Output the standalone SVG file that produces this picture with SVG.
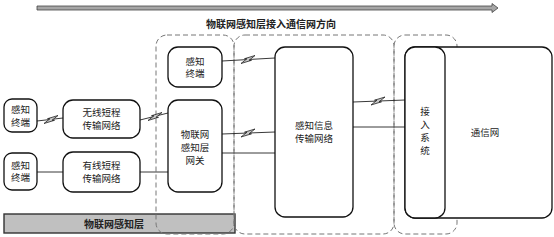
<svg xmlns="http://www.w3.org/2000/svg" xmlns:xlink="http://www.w3.org/1999/xlink" width="554" height="237" viewBox="0 0 554 237">
<style>
  .node{fill:#fff;stroke:#111;stroke-width:1.3}
  .dash{fill:none;stroke:#777;stroke-width:1;stroke-dasharray:5,3}
  .t{font-family:"Noto Sans CJK SC","Noto Sans",sans-serif;font-size:9.5px;fill:#222;text-anchor:middle}
  .b{font-weight:bold;font-size:10px}
  .ln{stroke:#222;stroke-width:0.9;fill:none}
  .bolt{fill:#c8c8c8;stroke:#222;stroke-width:0.8;stroke-linejoin:miter}
</style>
<defs>
  <path id="bolt" d="M-7,4 L-1,-0.8 L-3.5,-0.8 L7,-4 L1,0.8 L3.5,0.8 Z"/>
</defs>
<rect width="554" height="237" fill="#fff"/>

<g id="direction-arrow">
  <polygon points="37,6 492,6 492,3.5 498,8 492,12.5 492,10 37,10" fill="#a6a6a6" stroke="#444" stroke-width="0.8"/>
  <text class="t b" x="271" y="28">物联网感知层接入通信网方向</text>
</g>

<g id="layer-bar">
  <rect x="4" y="214" width="231" height="19" fill="#c0c0c0" stroke="#333" stroke-width="1.4"/>
  <text class="t b" x="114" y="228">物联网感知层</text>
</g>

<g id="containers">
  <rect class="dash" x="156" y="35" width="78" height="199" rx="11"/>
  <rect class="dash" x="234" y="35" width="160" height="199" rx="11"/>
  <rect class="dash" x="394" y="35" width="63" height="199" rx="11"/>
</g>

<g id="connectors">
  <line class="ln" x1="37" y1="121" x2="63" y2="118"/>
  <use href="#bolt" class="bolt" transform="translate(51,119.5)"/>
  <line class="ln" x1="140" y1="120" x2="168" y2="113"/>
  <use href="#bolt" class="bolt" transform="translate(155,116.5)"/>
  <line class="ln" x1="222" y1="61" x2="275" y2="58"/>
  <use href="#bolt" class="bolt" transform="translate(248,59.5)"/>
  <line class="ln" x1="222" y1="134" x2="275" y2="132"/>
  <use href="#bolt" class="bolt" transform="translate(248,133)"/>
  <line class="ln" x1="353" y1="102" x2="405" y2="100"/>
  <use href="#bolt" class="bolt" transform="translate(378,101)"/>
  <line class="ln" x1="37" y1="172" x2="63" y2="172"/>
  <line class="ln" x1="140" y1="172" x2="168" y2="172"/>
  <line class="ln" x1="222" y1="153" x2="275" y2="153"/>
  <line class="ln" x1="353" y1="127" x2="405" y2="127"/>
</g>

<g id="terminal-1">
  <rect class="node" x="4" y="99" width="33" height="33" rx="8"/>
  <text class="t" x="20.5" y="113">感知</text>
  <text class="t" x="20.5" y="125.5">终端</text>
</g>
<g id="wireless-net">
  <rect class="node" x="63" y="100" width="77" height="38" rx="10"/>
  <text class="t" x="101.5" y="116">无线短程</text>
  <text class="t" x="101.5" y="129">传输网络</text>
</g>
<g id="terminal-2">
  <rect class="node" x="4" y="153" width="33" height="37" rx="8"/>
  <text class="t" x="20.5" y="168.5">感知</text>
  <text class="t" x="20.5" y="181">终端</text>
</g>
<g id="wired-net">
  <rect class="node" x="63" y="152" width="77" height="40" rx="10"/>
  <text class="t" x="101.5" y="169">有线短程</text>
  <text class="t" x="101.5" y="182">传输网络</text>
</g>
<g id="terminal-3">
  <rect class="node" x="168" y="47" width="54" height="40" rx="10"/>
  <text class="t" x="195" y="64.5">感知</text>
  <text class="t" x="195" y="77">终端</text>
</g>
<g id="gateway">
  <rect class="node" x="168" y="100" width="54" height="92" rx="10"/>
  <text class="t" x="195" y="137.5">物联网</text>
  <text class="t" x="195" y="150.5">感知层</text>
  <text class="t" x="195" y="163.5">网关</text>
</g>
<g id="sensing-net">
  <rect class="node" x="275" y="47" width="78" height="170" rx="10"/>
  <text class="t" x="314" y="129">感知信息</text>
  <text class="t" x="314" y="141.5">传输网络</text>
</g>
<g id="comm-net">
  <rect class="node" x="405" y="47" width="147" height="171" rx="10"/>
  <text class="t" x="485" y="136">通信网</text>
</g>
<g id="access-system">
  <rect class="node" x="405" y="47" width="40" height="171" rx="10"/>
  <text class="t" x="425" y="115">接</text>
  <text class="t" x="425" y="128">入</text>
  <text class="t" x="425" y="141">系</text>
  <text class="t" x="425" y="154">统</text>
</g>
</svg>
